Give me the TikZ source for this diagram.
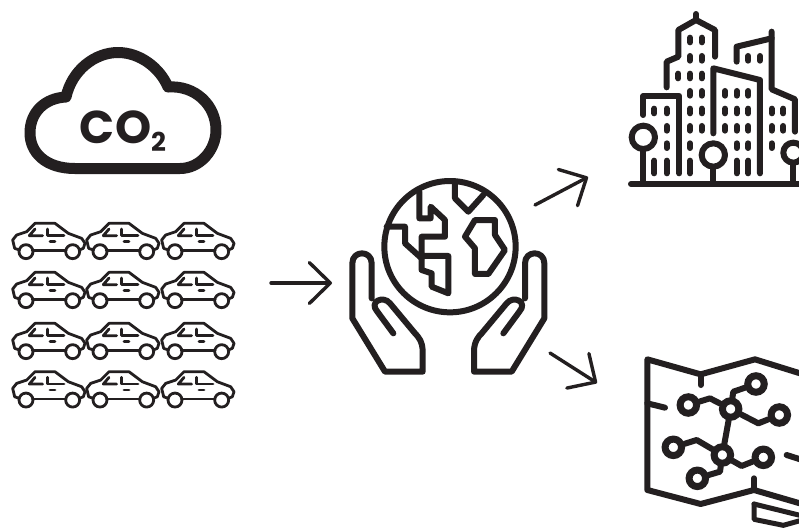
\documentclass[tikz,border=0pt]{standalone}
\usepackage{fontspec}
\usepackage{tikz}
\usetikzlibrary{arrows.meta}
\newfontfamily\cofont{Poppins}
\definecolor{iconblack}{HTML}{231F20}
\tikzset{
  iconline/.style={line width=6pt,line join=round,line cap=round,color=iconblack},
  carline/.style={line width=2.8pt,line join=round,line cap=round,color=iconblack},
  bigarrow/.style={line width=3.4pt,line cap=round,color=iconblack,
    -{Straight Barb[length=21pt,width=41pt,round]}},
  window/.style={line width=6pt,line cap=round,color=iconblack},
  hubnode/.style={circle,draw=iconblack,line width=7pt,fill=white,inner sep=0pt,minimum size=16.5pt},
  carpic/.pic={
    \draw[carline] (58,105) -- (44,100) -- (38,75) -- (50,60) -- (80,50) -- (105,25) -- (165,25)
      -- (205,55) -- (245,70) -- (255,85) -- (250,100) -- (238,105);
    \draw[carline] (97,107) -- (198,107);
    \draw[carline] (78,110) circle (21);
    \draw[carline] (218,110) circle (21);
    \draw[carline] (105,42) -- (88,62) -- (128,62);
    \draw[carline] (143,42) -- (143,62) -- (192,62);
    \draw[carline] (150,80) -- (165,80);
  },
  handpic/.pic={
    \draw[iconline] (95,385) -- (95,280) .. controls (95,240) and (37,240) .. (37,280) -- (37,445)
      -- (135,605) -- (248,605) -- (248,545) .. controls (248,515) and (235,500) .. (225,490)
      -- (150,400) .. controls (130,375) and (85,395) .. (112,425) -- (160,490);
  }
}

\begin{document}
\begin{tikzpicture}[x=1pt,y=-1pt]
\clip (0,0) rectangle (799,528);
\fill[white] (0,0) rectangle (799,528);

\begin{scope}
\clip (0,0) rectangle (221.5,528);
\draw[iconline,line width=11pt] (75,168.5) .. controls (45,168.5) and (30,152) .. (30,133)
  .. controls (30,112) and (45,98) .. (66,97)
  .. controls (72,70) and (95,52.5) .. (118,52.5)
  .. controls (140,52.5) and (160,68) .. (168,87)
  .. controls (195,85) and (216,105) .. (216,130)
  .. controls (216,150) and (200,168.5) .. (180,168.5) -- cycle;
\end{scope}
\node[text=iconblack,inner sep=0pt] (co2) at (123,131)
  {\cofont\bfseries\fontsize{46}{46}\selectfont CO\raisebox{-8pt}{\fontsize{26}{26}\selectfont 2}};

\foreach \rowy in {215,264,315,363.4}
  \foreach \colx in {0,74,149}
    \pic[scale=0.3333] at (\colx,\rowy) {carpic};

\coordinate (carsout) at (271,283);
\coordinate (handsin) at (332,283);
\coordinate (handsup) at (535,205);
\coordinate (cityin) at (588,177);
\coordinate (handsdown) at (550,353);
\coordinate (mapin) at (597,383);
\draw[bigarrow] (carsout) -- (handsin);
\draw[bigarrow] (handsup) -- (cityin);
\draw[bigarrow] (handsdown) -- (mapin);

\begin{scope}[shift={(340,170)},scale=0.3333]
\draw[iconline] (330,230) circle (197);
\draw[iconline] (238,65) -- (238,145) -- (272,145) -- (272,110) -- (315,150) -- (315,200) -- (245,200)
  -- (245,300) -- (275,310) -- (275,350) -- (325,370) -- (325,258) -- (245,258);
\draw[iconline] (140,170) -- (195,170) -- (195,220) -- (245,265);
\draw[iconline] (345,35) -- (345,85) -- (385,125) -- (430,75);
\draw[iconline] (405,150) -- (465,150) -- (465,195) -- (495,240) -- (445,312) -- (405,312)
  -- (405,235) -- (375,200) -- cycle;
\end{scope}
\pic[scale=0.3333] at (340,170) {handpic};
\pic[xscale=-0.3333,yscale=0.3333] at (556.67,170) {handpic};

\begin{scope}[shift={(620,0)},scale=0.3333]
\draw[iconline] (33,552) -- (560,552);
\draw[iconline] (70,412) circle (35);
\draw[iconline] (70,450) -- (70,552);
\draw[iconline] (280,465) circle (35);
\draw[iconline] (280,505) -- (280,552);
\draw[iconline] (520,458) circle (30);
\draw[iconline] (520,490) -- (520,552);
\draw[iconline] (70,345) -- (70,288) -- (178,288) -- (178,520);
\draw[iconline] (140,262) -- (140,185) -- (175,170) -- (175,90) -- (228,60) -- (285,90) -- (285,170);
\draw[iconline] (228,42) -- (228,60);
\draw[iconline] (280,400) -- (280,205) -- (420,240) -- (420,520);
\draw[iconline] (350,185) -- (350,140) -- (455,115);
\draw[iconline] (455,95) -- (455,268) -- (525,298) -- (525,395);
\foreach \winx/\winys in {210/{120,175,228,280,333,385,437},245/{120,175,228,280,333,385},175/{228},
    103/{333},140/{333,385,437},315/{280,333,385},350/{280,333,385,437},385/{175,280,333,385,437},
    420/{175},455/{333,385,437},490/{333,385}}
  \foreach \winy in \winys
    \draw[window] (\winx,\winy-7) -- (\winx,\winy+7);
\foreach \winx in {103,140,210,350,385}
  \draw[window] (\winx,482) -- (\winx,520);
\end{scope}

\begin{scope}[shift={(630,340)},scale=0.3333]
\draw[iconline] (520,103) -- (375,58) -- (212,103) -- (52,58) -- (52,450) -- (212,492)
  -- (372,450) -- (520,493);
\draw[iconline] (212,103) -- (212,135);
\draw[iconline] (52,190) -- (105,203);
\draw[iconline] (372,450) -- (372,415);
\draw[iconline] (470,345) -- (520,361);
\node[hubnode] (hubtop) at (302,207) {};
\node[hubnode] (hubbot) at (277,345) {};
\node[hubnode] (termone) at (175,195) {};
\node[hubnode] (termtwo) at (378,132) {};
\node[hubnode] (termthree) at (448,225) {};
\node[hubnode] (termfour) at (130,322) {};
\node[hubnode] (termfive) at (400,352) {};
\node[hubnode] (termsix) at (202,415) {};
\draw[iconline] (termone) -- (240,175) -- (hubtop);
\draw[iconline] (termtwo) -- (310,155) -- (hubtop);
\draw[iconline] (termthree) -- (385,250) -- (hubtop);
\draw[iconline] (hubtop) -- (hubbot);
\draw[iconline] (termfour) -- (200,300) -- (hubbot);
\draw[iconline] (termfive) -- (335,378) -- (hubbot);
\draw[iconline] (termsix) -- (270,395) -- (hubbot);
\end{scope}

\begin{scope}[shift={(730,480)},scale=0.3333]
\draw[iconline,line width=5pt] (72,72) -- (210,106);
\draw[iconline,line width=5pt] (72,72) -- (72,118) -- (160,136) -- (210,122);
\end{scope}
\end{tikzpicture}
\end{document}
